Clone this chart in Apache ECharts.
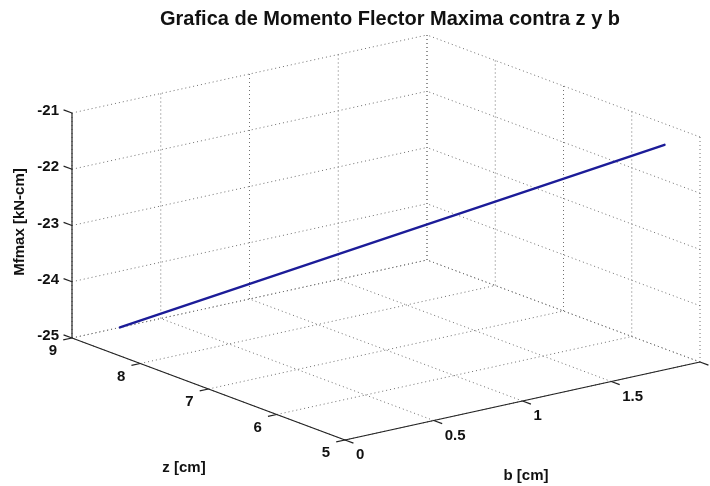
<!DOCTYPE html>
<html>
<head>
<meta charset="utf-8">
<script src="https://cdn.jsdelivr.net/npm/echarts@6/dist/echarts.min.js"></script>
<style>
  html, body { margin: 0; padding: 0; background: #ffffff; }
  #chart { width: 710px; height: 486px; }
</style>
</head>
<body>
<div id="chart"></div>
<script>
// Ranges of the three axes of the box
const bRange = [0, 2];
const zRange = [5, 9];
const mRange = [-25, -21];

// Ticks and their labels
const bTicks = [0, 0.5, 1, 1.5, 2];
const bTickLabels = ['0', '0.5', '1', '1.5', ''];
const zTicks = [5, 6, 7, 8, 9];
const zTickLabels = ['5', '6', '7', '8', '9'];
const mTicks = [-25, -24, -23, -22, -21];
const mTickLabels = ['-25', '-24', '-23', '-22', '-21'];

// Curve: b [cm], z [cm], Mfmax [kN-cm]
const curveB = [0.27, 0.65, 1.03, 1.42, 1.80];
const curveZ = [9, 8, 7, 6, 5];
const curveM = [-25, -24, -23, -22, -21];

// Oblique view of the box: screen position of the corner (b min, z min, m min)
// and the screen vectors spanned by each full axis range.
const view = {
  origin: [345, 440],
  eb: [355, -78],
  ez: [-273, -102],
  em: [0, -225]
};

function project(b, z, m) {
  const nb = (b - bRange[0]) / (bRange[1] - bRange[0]);
  const nz = (z - zRange[0]) / (zRange[1] - zRange[0]);
  const nm = (m - mRange[0]) / (mRange[1] - mRange[0]);
  return [
    view.origin[0] + nb * view.eb[0] + nz * view.ez[0] + nm * view.em[0],
    view.origin[1] + nb * view.eb[1] + nz * view.ez[1] + nm * view.em[1]
  ];
}

function unit(v, s) {
  const l = Math.hypot(v[0], v[1]);
  return [s * v[0] / l, s * v[1] / l];
}

// Dotted grid on the floor and the two back walls
const gridSegs = [];
bTicks.forEach(b => {
  gridSegs.push([b, zRange[0], mRange[0], b, zRange[1], mRange[0]]);
  gridSegs.push([b, zRange[1], mRange[0], b, zRange[1], mRange[1]]);
});
zTicks.forEach(z => {
  gridSegs.push([bRange[0], z, mRange[0], bRange[1], z, mRange[0]]);
  gridSegs.push([bRange[1], z, mRange[0], bRange[1], z, mRange[1]]);
});
mTicks.forEach(m => {
  gridSegs.push([bRange[0], zRange[1], m, bRange[1], zRange[1], m]);
  gridSegs.push([bRange[1], zRange[0], m, bRange[1], zRange[1], m]);
});

// Solid axis lines
const axisSegs = [
  [bRange[0], zRange[0], mRange[0], bRange[1], zRange[0], mRange[0]],
  [bRange[0], zRange[0], mRange[0], bRange[0], zRange[1], mRange[0]],
  [bRange[0], zRange[1], mRange[0], bRange[0], zRange[1], mRange[1]]
];

// Tick marks and labels: [b, z, m, axis id, label]
const tickItems = [];
bTicks.forEach((b, i) => tickItems.push([b, zRange[0], mRange[0], 0, bTickLabels[i]]));
zTicks.forEach((z, i) => tickItems.push([bRange[0], z, mRange[0], 1, zTickLabels[i]]));
mTicks.forEach((m, i) => tickItems.push([bRange[0], zRange[1], m, 2, mTickLabels[i]]));

const tickLen = 9;
const tickDir = [
  unit([-view.ez[0], -view.ez[1]], tickLen),   // b axis: ticks point away from z
  unit([-view.eb[0], -view.eb[1]], tickLen),   // z axis: ticks point away from b
  unit([view.ez[0], view.ez[1]], tickLen)      // Mfmax axis: ticks point outward along z
];
const labelStyle = [
  { dx: 11, dy: 15, align: 'left' },
  { dx: -15, dy: 13, align: 'right' },
  { dx: -13, dy: -2, align: 'right' }
];

const fontFamily = '"Liberation Sans", Arial, Helvetica, sans-serif';
const inkColor = '#111111';

function segmentRenderer(stroke, dash, width) {
  return function (params, api) {
    const p = api.coord(project(api.value(0), api.value(1), api.value(2)));
    const q = api.coord(project(api.value(3), api.value(4), api.value(5)));
    return {
      type: 'line',
      shape: { x1: p[0], y1: p[1], x2: q[0], y2: q[1] },
      style: { stroke: stroke, lineWidth: width, lineDash: dash }
    };
  };
}

const chart = echarts.init(document.getElementById('chart'), null, { renderer: 'canvas' });

chart.setOption({
  backgroundColor: '#ffffff',
  animation: false,
  title: {
    text: 'Grafica de Momento Flector Maxima contra z y b',
    left: 385,
    top: 4,
    textAlign: 'center',
    textStyle: { fontFamily: fontFamily, fontWeight: 'bold', fontSize: 20, color: inkColor }
  },
  grid: { left: 0, right: 0, top: 0, bottom: 0 },
  xAxis: { type: 'value', min: 0, max: 710, show: false },
  yAxis: { type: 'value', min: 0, max: 486, inverse: true, show: false },
  graphic: [
    {
      type: 'text', x: 20, y: 222, rotation: Math.PI / 2,
      style: { text: 'Mfmax [kN-cm]', align: 'center', verticalAlign: 'middle',
               fontFamily: fontFamily, fontWeight: 'bold', fontSize: 15, fill: inkColor }
    },
    {
      type: 'text', x: 184, y: 468,
      style: { text: 'z [cm]', align: 'center', verticalAlign: 'middle',
               fontFamily: fontFamily, fontWeight: 'bold', fontSize: 15, fill: inkColor }
    },
    {
      type: 'text', x: 526, y: 476,
      style: { text: 'b [cm]', align: 'center', verticalAlign: 'middle',
               fontFamily: fontFamily, fontWeight: 'bold', fontSize: 15, fill: inkColor }
    }
  ],
  series: [
    {
      type: 'custom',
      name: 'grid',
      silent: true,
      clip: false,
      data: gridSegs,
      renderItem: segmentRenderer('#707070', [1, 3], 1)
    },
    {
      type: 'custom',
      name: 'axes',
      silent: true,
      clip: false,
      data: axisSegs,
      renderItem: segmentRenderer('#222222', null, 1.2)
    },
    {
      type: 'custom',
      name: 'ticks',
      silent: true,
      clip: false,
      data: tickItems,
      renderItem: function (params, api) {
        const axis = api.value(3);
        const p = api.coord(project(api.value(0), api.value(1), api.value(2)));
        const d = tickDir[axis];
        const ls = labelStyle[axis];
        const label = tickItems[params.dataIndex][4];
        return {
          type: 'group',
          children: [
            {
              type: 'line',
              shape: { x1: p[0], y1: p[1], x2: p[0] + d[0], y2: p[1] + d[1] },
              style: { stroke: '#222222', lineWidth: 1.2 }
            },
            {
              type: 'text',
              x: p[0] + ls.dx,
              y: p[1] + ls.dy,
              style: {
                text: label, align: ls.align, verticalAlign: 'middle',
                fontFamily: fontFamily, fontWeight: 'bold', fontSize: 15, fill: inkColor
              }
            }
          ]
        };
      }
    },
    {
      type: 'line',
      name: 'Mfmax',
      silent: true,
      clip: false,
      showSymbol: false,
      data: curveB.map((b, i) => project(b, curveZ[i], curveM[i])),
      lineStyle: { color: '#1c1c98', width: 2.4, cap: 'round' }
    }
  ]
});
</script>
</body>
</html>
